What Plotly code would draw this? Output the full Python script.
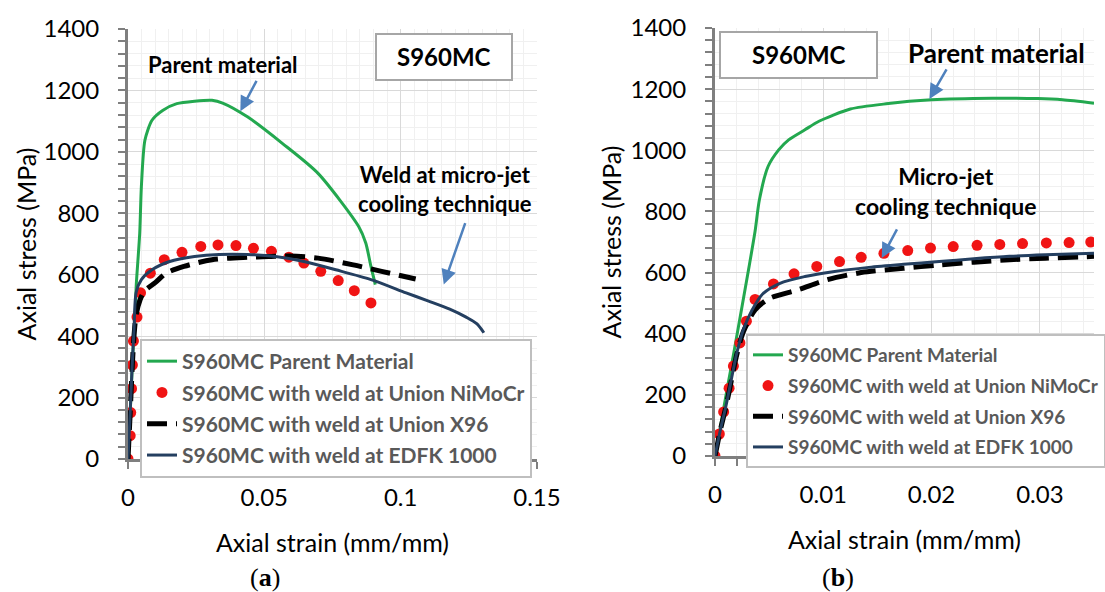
import plotly.graph_objects as go

# ---------------- data ----------------
# Panel (a)
parent_a_strain = [0, 0.001, 0.002, 0.0028, 0.003, 0.0043, 0.0049, 0.0062, 0.0088, 0.0127, 0.0179,
                   0.0244, 0.0308, 0.0347, 0.0438, 0.0567, 0.0697, 0.0846, 0.0872, 0.0891, 0.0907]
parent_a_stress = [0, 190, 380, 500, 562, 735, 886, 1038, 1103, 1135, 1157,
                   1165, 1168, 1159, 1114, 1027, 930, 757, 703, 627, 568]

nimocr_a_strain = [0, 0.0008, 0.001, 0.0013, 0.0016, 0.002, 0.0033, 0.0046, 0.0082, 0.0133, 0.0198,
                   0.0267, 0.033, 0.0396, 0.046, 0.0526, 0.059, 0.0645, 0.0707, 0.0771, 0.083, 0.0891]
nimocr_a_stress = [0, 76, 151, 229, 306, 384, 462, 541, 605, 649, 673,
                   692, 697, 695, 686, 676, 657, 638, 611, 581, 548, 508]

x96_a_strain = [0, 0.0008, 0.0015, 0.0022, 0.003, 0.0045, 0.0062, 0.0101, 0.014, 0.0205, 0.0308,
                0.0438, 0.0516, 0.0593, 0.0697, 0.0826, 0.093, 0.1055]
x96_a_stress = [0, 150, 290, 400, 470, 520, 548, 575, 605, 627, 649,
                657, 659, 661, 654, 632, 611, 586]

edfk_a_strain = [0, 0.0008, 0.0015, 0.0022, 0.003, 0.0049, 0.0088, 0.0153, 0.0244, 0.0334, 0.0438,
                 0.0541, 0.0645, 0.0762, 0.0891, 0.102, 0.11, 0.118, 0.124, 0.128, 0.1305]
edfk_a_stress = [0, 150, 300, 420, 543, 584, 616, 643, 659, 666, 666,
                 659, 643, 616, 584, 541, 515, 488, 462, 440, 411]

# Panel (b)
parent_b_strain = [0, 0.0005, 0.0011, 0.0018, 0.0025, 0.0031, 0.0037, 0.0041, 0.0049, 0.0059, 0.0068,
                   0.0083, 0.0096, 0.0125, 0.0158, 0.02, 0.0256, 0.0298, 0.0321, 0.035]
parent_b_stress = [0, 95, 215, 350, 490, 610, 735, 838, 947, 1002, 1034,
                   1067, 1095, 1135, 1152, 1165, 1170, 1169, 1165, 1154]

nimocr_b_strain = [0, 0.0004, 0.0008, 0.0013, 0.0017, 0.0023, 0.0029, 0.0037, 0.0054, 0.0073, 0.0094,
                   0.0115, 0.0135, 0.0156, 0.0178, 0.0199, 0.022, 0.0242, 0.0263, 0.0284, 0.0306, 0.0327, 0.0347]
nimocr_b_stress = [0, 72, 144, 222, 294, 370, 441, 512, 563, 596, 620,
                   636, 650, 663, 672, 680, 685, 689, 692, 695, 697, 698, 700]

x96_b_strain = [0, 0.0005, 0.001, 0.0015, 0.002, 0.0026, 0.0037, 0.005, 0.0077, 0.0103, 0.0135,
                0.0174, 0.0207, 0.0239, 0.0272, 0.0305, 0.035]
x96_b_stress = [0, 86, 160, 245, 330, 405, 478, 515, 544, 576, 600,
                614, 625, 634, 642, 647, 653]

edfk_b_strain = [0, 0.0005, 0.001, 0.0015, 0.002, 0.0026, 0.0034, 0.0044, 0.006, 0.0083, 0.0109,
                 0.0142, 0.0174, 0.0207, 0.0239, 0.0272, 0.0305, 0.035]
edfk_b_stress = [0, 86, 162, 249, 335, 411, 476, 530, 565, 587, 603,
                 617, 627, 636, 645, 653, 658, 663]

series_names = ["S960MC Parent Material", "S960MC with weld at Union NiMoCr",
                "S960MC with weld at Union X96", "S960MC with weld at EDFK 1000"]

# ---------------- styles ----------------
GREEN = "#23A84F"
RED = "#F01414"
BLACK = "#000000"
NAVY = "#243F60"
ARROW = "#4F81BD"
FONT = "Lato"

W, H = 1105, 592


def px(xp):
    return xp / W


def py(yp):
    return 1 - yp / H


fig = go.Figure()


def add_panel(xa, ya, leg, data):
    (ps, pv), (ns, nv), (xs, xv), (es, ev) = data
    fig.add_trace(go.Scatter(x=ps, y=pv, mode="lines", name=series_names[0],
                             line=dict(color=GREEN, width=3, shape="spline", smoothing=0.7),
                             xaxis=xa, yaxis=ya, legend=leg, legendgroup=leg + "p"))
    fig.add_trace(go.Scatter(x=ns, y=nv, mode="markers", name=series_names[1],
                             marker=dict(color=RED, size=11),
                             xaxis=xa, yaxis=ya, legend=leg, legendgroup=leg + "n"))
    fig.add_trace(go.Scatter(x=xs, y=xv, mode="lines", name=series_names[2],
                             line=dict(color=BLACK, width=5, dash="20px,9px", shape="spline", smoothing=0.8),
                             xaxis=xa, yaxis=ya, legend=leg, legendgroup=leg + "x"))
    fig.add_trace(go.Scatter(x=es, y=ev, mode="lines", name=series_names[3],
                             line=dict(color=NAVY, width=3, shape="spline", smoothing=0.8),
                             xaxis=xa, yaxis=ya, legend=leg, legendgroup=leg + "e"))


add_panel("x", "y", "legend", [(parent_a_strain, parent_a_stress), (nimocr_a_strain, nimocr_a_stress),
                               (x96_a_strain, x96_a_stress), (edfk_a_strain, edfk_a_stress)])
add_panel("x2", "y2", "legend2", [(parent_b_strain, parent_b_stress), (nimocr_b_strain, nimocr_b_stress),
                                  (x96_b_strain, x96_b_stress), (edfk_b_strain, edfk_b_stress)])

axis_common = dict(showline=True, linecolor="#7F7F7F", linewidth=3, ticks="outside", ticklen=7,
                   tickwidth=2, tickcolor="#7F7F7F", showgrid=True, gridcolor="#D9D9D9", gridwidth=1,
                   zeroline=False, automargin=False, tickfont=dict(family=FONT, size=24, color="#000000"),
                   title_font=dict(family=FONT, size=25, color="#000000"))
minor_common = dict(ticks="outside", ticklen=7, tickwidth=2, tickcolor="#7F7F7F",
                    showgrid=True, gridcolor="#F0F0F0")
legend_common = dict(xanchor="left", yanchor="top", bgcolor="white", bordercolor="#BFBFBF", borderwidth=2,
                     traceorder="grouped", itemwidth=30)

fig.update_layout(
    width=W, height=H, margin=dict(l=0, r=0, t=0, b=0, autoexpand=False),
    paper_bgcolor="white", plot_bgcolor="white",
    xaxis=dict(axis_common, domain=[px(128), px(537)], range=[0, 0.15], dtick=0.05, anchor="y",
               title=dict(text="Axial strain (mm/mm)", standoff=25), ticklabelstandoff=8,
               minor=dict(minor_common, dtick=0.005)),
    yaxis=dict(axis_common, domain=[py(459), py(29)], range=[0, 1400], dtick=200, anchor="x",
               title=dict(text="Axial stress (MPa)", standoff=0), ticklabelstandoff=14,
               minor=dict(minor_common, dtick=40)),
    xaxis2=dict(axis_common, domain=[px(715), px(1094)], range=[0, 0.035], dtick=0.01, anchor="y2",
                title=dict(text="Axial strain (mm/mm)", standoff=25), ticklabelstandoff=8,
                minor=dict(minor_common, dtick=0.002)),
    yaxis2=dict(axis_common, domain=[py(456), py(28)], range=[0, 1400], dtick=200, anchor="x2",
                title=dict(text="Axial stress (MPa)", standoff=2), ticklabelstandoff=14,
                minor=dict(minor_common, dtick=40)),
    legend=dict(legend_common, x=px(140), y=py(339), tracegroupgap=1,
                font=dict(family=FONT, size=21, color="#595959", weight="bold")),
    legend2=dict(legend_common, x=px(746), y=py(334), tracegroupgap=3,
                 font=dict(family=FONT, size=19, color="#595959", weight="bold")),
)

# Boxes with "S960MC"
for (x0, y0, x1, y1) in [(376, 34, 512, 80), (720, 32, 877, 78)]:
    fig.add_shape(type="rect", xref="paper", yref="paper", x0=px(x0), x1=px(x1), y0=py(y1), y1=py(y0),
                  line=dict(color="#A6A6A6", width=2), fillcolor="white", layer="above")
    fig.add_annotation(xref="paper", yref="paper", x=px((x0 + x1) / 2), y=py((y0 + y1) / 2),
                       xanchor="center", yanchor="middle", text="<b>S960MC</b>", showarrow=False,
                       font=dict(family=FONT, size=24, color="black"))

# Text labels
labels = [(223, 65, "<b>Parent material</b>", 22),
          (445, 189, "<b>Weld at micro-jet<br>cooling technique</b>", 22),
          (996, 53, "<b>Parent material</b>", 26),
          (946, 191, "<b>Micro-jet<br>cooling technique</b>", 23)]
for xl, yl, txt, fs in labels:
    fig.add_annotation(xref="paper", yref="paper", x=px(xl), y=py(yl), xanchor="center", yanchor="middle",
                       text=txt, showarrow=False, font=dict(family=FONT, size=fs, color="black"))

# Arrows (head in data coords, tail offset in pixels)
arrows = [("x", "y", 0.0412, 1132, 17, -32), ("x", "y", 0.1158, 568, 22, -63),
          ("x2", "y2", 0.0198, 1168, 18, -31), ("x2", "y2", 0.0154, 648, 16, -30)]
for xr, yr, hx, hy, ax, ay in arrows:
    fig.add_annotation(xref=xr, yref=yr, x=hx, y=hy, ax=ax, ay=ay, text="", showarrow=True,
                       arrowhead=2, arrowsize=1.2, arrowwidth=2.5, arrowcolor=ARROW)

# Panel captions
for xc, lab in [(265, "a"), (838, "b")]:
    fig.add_annotation(xref="paper", yref="paper", x=px(xc), y=py(577), xanchor="center", yanchor="middle",
                       text=f"(<b>{lab}</b>)", showarrow=False,
                       font=dict(family="Liberation Serif", size=26, color="black"))

fig.write_html("out.html")
